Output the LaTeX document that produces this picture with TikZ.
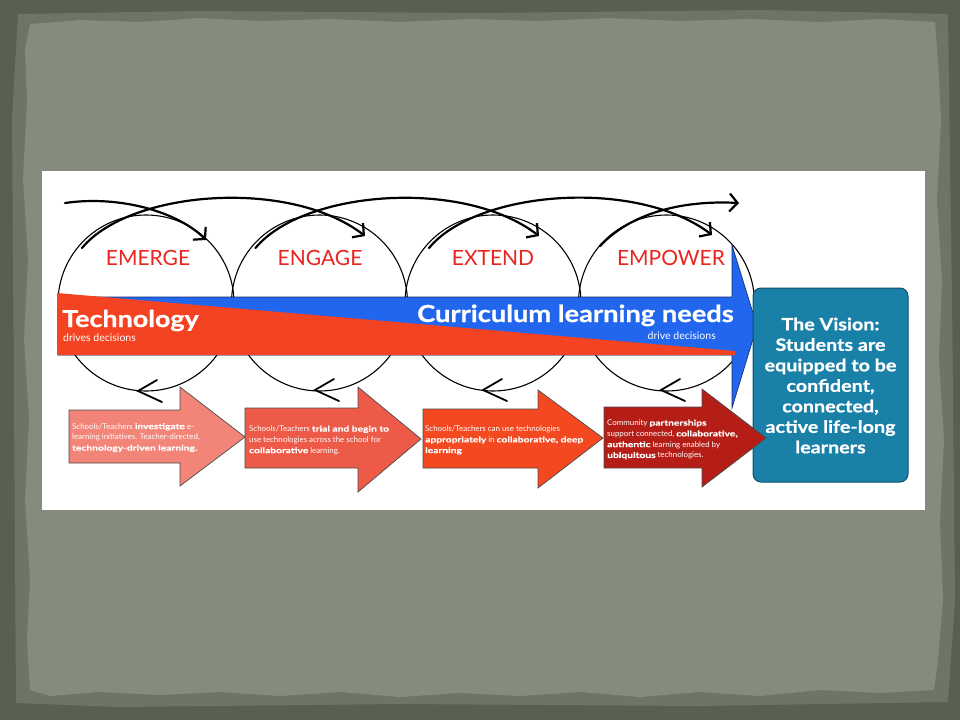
\documentclass[tikz,border=0pt]{standalone}
\usepackage{fontspec}
\setmainfont{Lato}[BoldFeatures={FakeStretch=1.16,FakeBold=0.8}]
\newfontfamily\stepfont{Lato}[BoldFeatures={FakeStretch=1.3,FakeBold=0.4}]
\usetikzlibrary{arrows.meta}
\definecolor{outerbg}{RGB}{88,96,79}
\definecolor{edgebg}{RGB}{110,117,100}
\definecolor{paper}{RGB}{134,140,125}
\definecolor{stagered}{RGB}{232,37,31}
\definecolor{techred}{RGB}{244,67,34}
\definecolor{curblue}{RGB}{34,102,238}
\definecolor{curedge}{RGB}{20,40,110}
\definecolor{visionteal}{RGB}{25,128,168}
\definecolor{visionedge}{RGB}{15,80,105}
\definecolor{arrowA}{RGB}{242,132,120}
\definecolor{arrowB}{RGB}{238,90,72}
\definecolor{arrowC}{RGB}{243,72,32}
\definecolor{arrowD}{RGB}{181,30,22}
\begin{document}
\begin{tikzpicture}[x=1pt,y=-1pt,
  loopline/.style={line width=1.1pt, black},
  sweep/.style={line width=2.2pt, black, line cap=round,
    -{Straight Barb[length=8pt,width=18pt]}},
  chev/.style={line width=1.8pt, black, line cap=round, line join=miter},
  stage/.style={anchor=base, inner sep=0pt, text=stagered, font=\fontsize{21}{24}\selectfont},
  steparrow/.style={draw=black!70, line width=0.7pt, line join=miter},
  steptext/.style={anchor=north west, inner sep=0pt, align=left, text=white,
    font=\stepfont\fontsize{7.9}{10.8}\selectfont},
]
\useasboundingbox (0,0) rectangle (960,720);
% background
\fill[outerbg] (0,0) rectangle (960,720);
\fill[edgebg] (18,14) -- (200,11) -- (480,13) -- (760,10) -- (948,14) -- (952,300) -- (955,600) -- (948,702)
  -- (700,706) -- (400,704) -- (120,707) -- (16,703) -- (14,400) -- (12,120) -- cycle;
\fill[paper] (30,24) -- (80,20) -- (140,22) -- (200,18) -- (260,21) -- (330,19) -- (400,22) -- (470,19)
  -- (540,21) -- (610,18) -- (680,21) -- (750,19) -- (820,22) -- (880,19) -- (935,22)
  -- (938,60) -- (941,120) -- (937,200) -- (942,280) -- (939,360) -- (944,440) -- (940,520)
  -- (943,600) -- (938,660) -- (934,690)
  -- (880,693) -- (820,690) -- (760,696) -- (700,692) -- (640,697) -- (580,692) -- (520,696)
  -- (460,693) -- (400,697) -- (340,692) -- (280,696) -- (220,692) -- (160,695) -- (100,692)
  -- (50,696) -- (30,690)
  -- (27,640) -- (30,580) -- (25,500) -- (29,420) -- (24,340) -- (28,260) -- (23,180)
  -- (27,100) -- (25,50) -- cycle;
% white panel
\fill[white] (42,171) rectangle (925,510);

% circles
\coordinate (c1) at (146,303);
\coordinate (c2) at (319.5,303);
\coordinate (c3) at (493,303);
\coordinate (c4) at (666.5,303);
\foreach \c in {c1,c2,c3,c4} \draw[loopline] (\c) circle[radius=88pt];

% bottom chevrons
\coordinate (t1) at (138,391);
\coordinate (t2) at (315,390);
\coordinate (t3) at (483,390);
\coordinate (t4) at (661,390);
\foreach \t in {t1,t2,t3,t4}
  \draw[chev] ([shift={(19,-11)}]\t) -- (\t) -- ([shift={(24,11)}]\t);

% top sweeping arrows
\coordinate (a0) at (65,203);   \coordinate (a1) at (206,240);
\coordinate (b0) at (82,248);   \coordinate (b1) at (365,236);
\coordinate (d0) at (255.5,248);\coordinate (d1) at (539,236);
\coordinate (e0) at (429,248);  \coordinate (e1) at (712,235);
\coordinate (f0) at (600,246);  \coordinate (f1) at (739,203);
\draw[sweep] (a0) .. controls (120,195) and (178,212) .. (a1);
\draw[sweep] (b0) .. controls (130,190) and (290,178) .. (b1);
\draw[sweep] (d0) .. controls (303.5,190) and (463.5,178) .. (d1);
\draw[sweep] (e0) .. controls (477,190) and (637,178) .. (e1);
\draw[sweep] (f0) .. controls (630,214) and (680,200) .. (f1);

% stage labels
\node[stage] (emerge) at (148,265) {EMERGE};
\node[stage] (engage) at (320,265) {ENGAGE};
\node[stage] (extend) at (493,265) {EXTEND};
\node[stage] (empower) at (671,265) {EMPOWER};

% blue curriculum arrow and red technology wedge
\filldraw[fill=curblue, draw=curedge, line width=0.6pt, line join=miter]
  (58,297) -- (732,297) -- (732,245) -- (757,326) -- (732,408) -- (732,355) -- (58,355) -- cycle;
\fill[techred] (57,293) -- (735,351) -- (735,355) -- (57,355) -- cycle;
\node[anchor=base west, inner sep=0pt, text=white, font=\bfseries\fontsize{23.2}{24}\selectfont]
  (tech) at (62,327) {Technology};
\node[anchor=base west, inner sep=0pt, text=white, font=\fontsize{10.5}{10.5}\selectfont]
  (techsub) at (63,341) {drives decisions};
\node[anchor=base west, inner sep=0pt, text=white, font=\bfseries\fontsize{23.5}{24}\selectfont]
  (curr) at (417,322) {Curriculum learning needs};
\node[anchor=base east, inner sep=0pt, text=white, font=\fontsize{10.5}{10.5}\selectfont]
  (currsub) at (716,339) {drive decisions};

% vision box
\filldraw[fill=visionteal, draw=visionedge, line width=1pt, rounded corners=8pt]
  (753,288) rectangle (908,482);
\node[anchor=north, inner sep=0pt, align=center, text=white,
  font=\bfseries\fontsize{17}{20.5}\selectfont] (vision) at (830.5,317.5)
  {The Vision:\\Students are\\equipped to be\\confident,\\connected,\\active life-long\\learners};

% bottom step arrows
\filldraw[steparrow, fill=arrowA] (69,410) -- (180,410) -- (180,387) -- (245,437) -- (180,486) -- (180,463) -- (69,463) -- cycle;
\filldraw[steparrow, fill=arrowB] (245,408) -- (358,408) -- (358,387) -- (421,439) -- (358,492) -- (358,468) -- (245,468) -- cycle;
\filldraw[steparrow, fill=arrowC] (423,409) -- (538,409) -- (538,390) -- (603,438) -- (538,488) -- (538,468) -- (423,468) -- cycle;
\filldraw[steparrow, fill=arrowD] (604,407) -- (702,407) -- (702,389) -- (766,438) -- (702,487) -- (702,468) -- (604,468) -- cycle;

\node[steptext] (s1) at (72,423)
  {Schools/Teachers \textbf{investigate} e-\\learning initiatives. Teacher-directed,\\\textbf{technology-driven learning.}};
\node[steptext] (s2) at (249,425.5)
  {Schools/Teachers \textbf{trial and begin to}\\use technologies across the school for\\\textbf{collaborative} learning.};
\node[steptext] (s3) at (425,425.5)
  {Schools/Teachers can use technologies\\\textbf{appropriately} in \textbf{collaborative, deep}\\\textbf{learning}};
\node[steptext] (s4) at (607,419.5)
  {Community \textbf{partnerships}\\support connected, \textbf{collaborative,}\\\textbf{authentic} learning enabled by\\\textbf{ubiquitous} technologies.};
\end{tikzpicture}
\end{document}
